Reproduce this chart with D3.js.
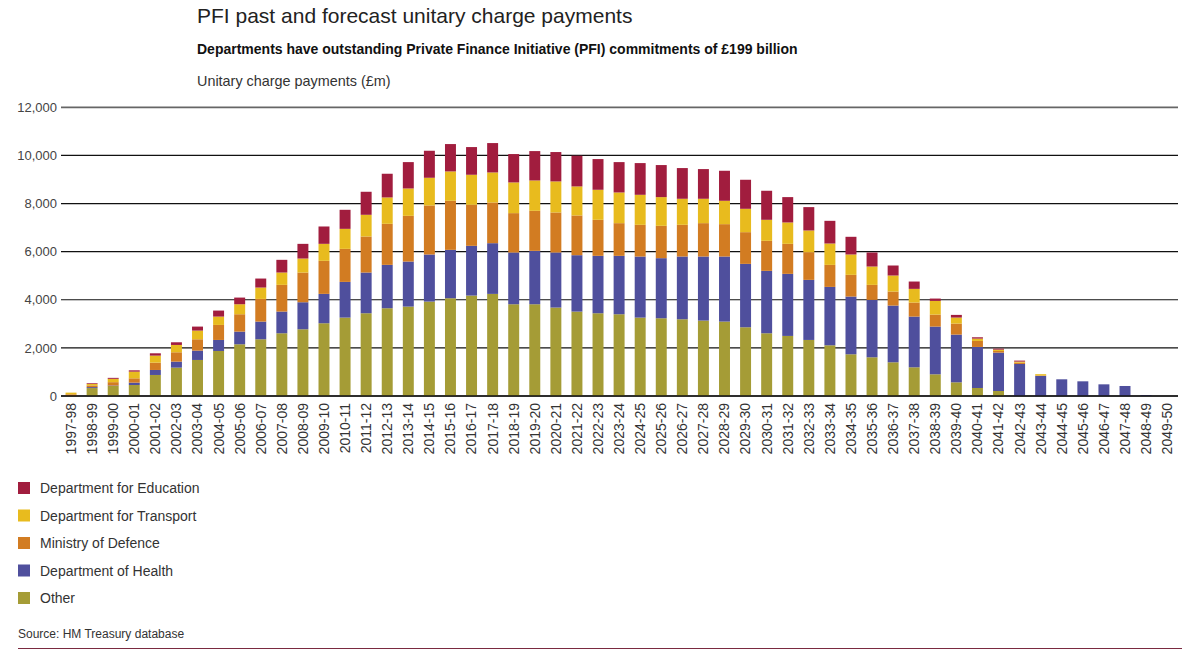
<!DOCTYPE html>
<html><head><meta charset="utf-8">
<script src="https://cdn.jsdelivr.net/npm/d3@7"></script>
<style>
body{margin:0;background:#fff;}
svg{display:block;font-family:"Liberation Sans",Arial,sans-serif;}
</style></head>
<body><svg id="c" width="1200" height="654"></svg>
<script>
const years = ["1997-98","1998-99","1999-00","2000-01","2001-02","2002-03","2003-04","2004-05","2005-06","2006-07","2007-08","2008-09","2009-10","2010-11","2011-12","2012-13","2013-14","2014-15","2015-16","2016-17","2017-18","2018-19","2019-20","2020-21","2021-22","2022-23","2023-24","2024-25","2025-26","2026-27","2027-28","2028-29","2029-30","2030-31","2031-32","2032-33","2033-34","2034-35","2035-36","2036-37","2037-38","2038-39","2039-40","2040-41","2041-42","2042-43","2043-44","2044-45","2045-46","2046-47","2047-48","2048-49","2049-50"];
const other =     [0,330,416,458,874,1179,1498,1872,2150,2358,2608,2774,3024,3259,3440,3648,3717,3925,4064,4175,4244,3814,3814,3676,3509,3440,3398,3259,3232,3190,3135,3093,2857,2608,2497,2330,2108,1734,1609,1401,1193,902,569,333,208,0,0,0,0,0,0,0,0];
const health =    [0,40,20,97,208,250,388,458,527,735,902,1123,1221,1484,1692,1803,1872,1956,2011,2067,2108,2150,2219,2289,2344,2386,2427,2538,2497,2608,2663,2705,2635,2594,2580,2497,2427,2400,2386,2358,2108,1983,1983,1706,1595,1332,832,694,610,485,416,40,0];
const defence =   [70,70,139,180,305,388,472,624,721,943,1110,1234,1373,1373,1498,1706,1900,2039,2039,1706,1692,1637,1664,1664,1651,1498,1359,1318,1345,1318,1387,1345,1318,1248,1248,1151,915,902,624,583,583,499,458,250,69,55,20,0,0,0,0,0,0];
const transport = [70,60,139,277,291,305,361,347,416,472,513,583,707,832,902,1096,1137,1151,1221,1248,1248,1276,1262,1290,1207,1248,1276,1248,1193,1082,1013,971,971,874,888,902,888,846,763,666,569,569,250,97,55,42,55,0,0,0,0,0,0];
const education = [0,30,40,55,97,111,166,250,277,374,527,610,721,791,957,985,1096,1123,1137,1151,1221,1179,1221,1221,1276,1276,1262,1318,1332,1276,1234,1248,1207,1207,1054,971,943,735,583,416,305,97,111,55,42,42,0,0,0,0,0,0,0];
const seriesNames = ["Other","Department of Health","Ministry of Defence","Department for Transport","Department for Education"];
const seriesColors = ["#a59c36","#4f4f9d","#d27c22","#e8bb1e","#a11d3e"];
const yTicks = [0,2000,4000,6000,8000,10000,12000];

const svg = d3.select("#c");
const x = d3.scaleBand().domain(years).range([60.5,1177.7]).paddingInner(0.48).paddingOuter(0.24);
const y = d3.scaleLinear().domain([0,12000]).range([396,107.3]);

// titles
svg.append("text").attr("x",197).attr("y",23).attr("font-size",21).attr("fill","#222").attr("font-weight",300)
  .text("PFI past and forecast unitary charge payments");
svg.append("text").attr("x",197).attr("y",54).attr("font-size",14).attr("font-weight","bold").attr("fill","#111")
  .text("Departments have outstanding Private Finance Initiative (PFI) commitments of £199 billion");
svg.append("text").attr("x",197).attr("y",86).attr("font-size",14.4).attr("fill","#333")
  .text("Unitary charge payments (£m)");

// y axis + gridlines
const yAxis = d3.axisLeft(y).tickValues(yTicks).tickSize(0).tickPadding(4).tickFormat(d3.format(","));
const ga = svg.append("g").attr("transform","translate(61,0)").call(yAxis);
ga.select(".domain").remove();
ga.selectAll("text").attr("font-size",13).attr("fill","#444").attr("font-family","Liberation Sans, Arial, sans-serif");
svg.append("g").selectAll("line").data(yTicks).join("line")
  .attr("x1",61).attr("x2",1178).attr("y1",d=>y(d)).attr("y2",d=>y(d))
  .attr("stroke",d=>d===12000?"#666":"#111").attr("stroke-width",d=>d===12000?1.8:1.2);

// stacked bars
const rows = years.map((yr,i)=>({year:yr, s0:other[i], s1:health[i], s2:defence[i], s3:transport[i], s4:education[i]}));
const stack = d3.stack().keys(["s0","s1","s2","s3","s4"])(rows);
svg.append("g").selectAll("g").data(stack).join("g").attr("fill",(d,i)=>seriesColors[i])
  .selectAll("rect").data(d=>d).join("rect")
  .attr("x",d=>x(d.data.year)).attr("width",x.bandwidth())
  .attr("y",d=>y(d[1])).attr("height",d=>Math.max(0,y(d[0])-y(d[1])));

// baseline
svg.append("line").attr("x1",61).attr("x2",1178).attr("y1",y(0)).attr("y2",y(0)).attr("stroke","#111").attr("stroke-width",1.4);

// x axis labels
const xAxis = d3.axisBottom(x).tickSize(0).tickPadding(0);
const gx = svg.append("g").attr("transform",`translate(0,${y(0)})`).call(xAxis);
gx.select(".domain").remove();
gx.selectAll("text").attr("font-size",14).attr("fill","#333").attr("font-family","Liberation Sans, Arial, sans-serif")
  .attr("text-anchor","end").attr("dy","0.35em").attr("transform","translate(0,7) rotate(-90)").attr("x",0).attr("y",0);

// legend
const lg = svg.append("g");
const legendOrder = [4,3,2,1,0];
legendOrder.forEach((si,k)=>{
  const yy = 488 + k*27.5;
  lg.append("rect").attr("x",18).attr("y",yy-6).attr("width",12).attr("height",12).attr("fill",seriesColors[si]);
  lg.append("text").attr("x",40).attr("y",yy+5).attr("font-size",14).attr("fill","#333").text(seriesNames[si]);
});

svg.append("text").attr("x",18).attr("y",638).attr("font-size",12).attr("fill","#333").text("Source: HM Treasury database");
svg.append("line").attr("x1",18).attr("x2",1182).attr("y1",648.5).attr("y2",648.5).attr("stroke","#7a2a40").attr("stroke-width",1);
</script></body></html>
